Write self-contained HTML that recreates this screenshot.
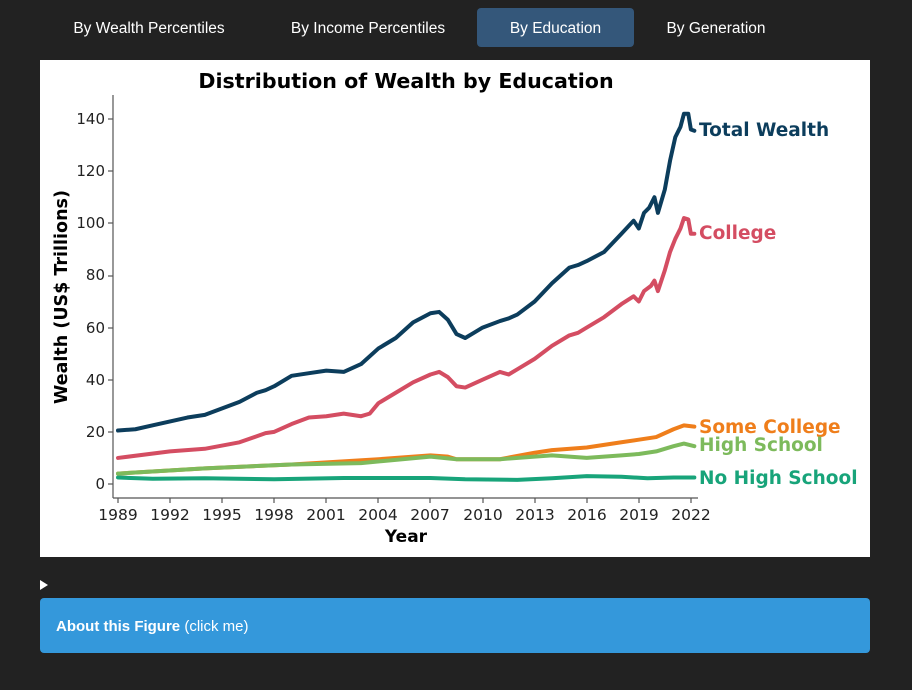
<!DOCTYPE html>
<html><head><meta charset="utf-8"><style>
body{margin:0;background:#222222;width:912px;height:690px;position:relative;overflow:hidden;font-family:"Liberation Sans",sans-serif}
.tab{position:absolute;top:9px;height:39px;line-height:39px;color:#fff;font-size:15.5px;text-align:center}
.chart{position:absolute;left:40px;top:60px;width:830px;height:497px;background:#fff}
.about{position:absolute;left:40px;top:598px;width:830px;height:55px;background:#3498db;border-radius:4px;color:#fff;font-size:15px;line-height:57px;box-sizing:border-box;padding-left:16px}
</style></head><body>
<div class="tab" style="left:56px;width:186px">By Wealth Percentiles</div>
<div class="tab" style="left:276px;width:184px">By Income Percentiles</div>
<div class="tab" style="left:477px;width:157px;top:8px;background:#34577a;border-radius:4px;line-height:41px">By Education</div>
<div class="tab" style="left:650px;width:132px">By Generation</div>
<div class="chart">
<svg width="830" height="497" viewBox="40 60 830 497" xmlns="http://www.w3.org/2000/svg" font-family="DejaVu Sans, sans-serif">
<text x="406" y="88" text-anchor="middle" font-size="20.6" font-weight="bold" fill="#000">Distribution of Wealth by Education</text>
<line x1="113" y1="95" x2="113" y2="498" stroke="#555" stroke-width="1.2"/>
<line x1="113" y1="498" x2="698" y2="498" stroke="#555" stroke-width="1.2"/>
<g font-size="15" fill="#222" text-anchor="end">
<text x="105" y="489">0</text><text x="105" y="437">20</text><text x="105" y="385">40</text><text x="105" y="333">60</text><text x="105" y="280">80</text><text x="105" y="228">100</text><text x="105" y="176">120</text><text x="105" y="124">140</text>
</g>
<g stroke="#555" stroke-width="1.2">
<line x1="108" y1="484" x2="113" y2="484"/><line x1="108" y1="432" x2="113" y2="432"/><line x1="108" y1="380" x2="113" y2="380"/><line x1="108" y1="328" x2="113" y2="328"/><line x1="108" y1="276" x2="113" y2="276"/><line x1="108" y1="223" x2="113" y2="223"/><line x1="108" y1="171" x2="113" y2="171"/><line x1="108" y1="119" x2="113" y2="119"/>
<line x1="118" y1="498" x2="118" y2="503"/><line x1="170" y1="498" x2="170" y2="503"/><line x1="222" y1="498" x2="222" y2="503"/><line x1="274" y1="498" x2="274" y2="503"/><line x1="326" y1="498" x2="326" y2="503"/><line x1="378" y1="498" x2="378" y2="503"/><line x1="430" y1="498" x2="430" y2="503"/><line x1="483" y1="498" x2="483" y2="503"/><line x1="535" y1="498" x2="535" y2="503"/><line x1="587" y1="498" x2="587" y2="503"/><line x1="639" y1="498" x2="639" y2="503"/><line x1="691" y1="498" x2="691" y2="503"/>
</g>
<g font-size="15.5" fill="#222" text-anchor="middle">
<text x="118" y="520">1989</text><text x="170" y="520">1992</text><text x="222" y="520">1995</text><text x="274" y="520">1998</text><text x="326" y="520">2001</text><text x="378" y="520">2004</text><text x="430" y="520">2007</text><text x="483" y="520">2010</text><text x="535" y="520">2013</text><text x="587" y="520">2016</text><text x="639" y="520">2019</text><text x="691" y="520">2022</text>
</g>
<text x="406" y="542" text-anchor="middle" font-size="17" font-weight="bold">Year</text>
<text transform="translate(67,297) rotate(-90)" text-anchor="middle" font-size="17.5" font-weight="bold">Wealth (US$ Trillions)</text>
<g transform="translate(118,484) scale(17.36,-2.607)" fill="none" stroke-width="4" stroke-linejoin="round" stroke-linecap="round">
<polyline vector-effect="non-scaling-stroke" stroke="#18a47a" points="0,2.5 2,2 5,2.2 9,1.8 13,2.3 18,2.3 20,1.8 23,1.6 25,2.2 27,3 29,2.8 30.5,2.2 32,2.5 33.2,2.5"/>
<polyline vector-effect="non-scaling-stroke" stroke="#ef7e1b" points="0,4 5,6 10,7.5 15,9.5 18,11 19,10.5 19.5,9.5 22,9.5 24,12 25,13 27,14 29,16 30,17 31,18 32,21 32.6,22.5 33.2,22"/>
<polyline vector-effect="non-scaling-stroke" stroke="#7dba5c" points="0,4 5,6 10,7.5 14,8 18,10.5 19.5,9.5 22,9.5 24,10.5 25,11 27,10 29,11 30,11.5 31,12.5 32,14.5 32.6,15.5 33.2,14.5"/>
<polyline vector-effect="non-scaling-stroke" stroke="#d44d62" points="0,10 3,12.5 5,13.5 7,16 8.5,19.5 9,20 10,23 11,25.5 12,26 13,27 14,26 14.5,27 15,31 16,35 17,39 18,42 18.5,43 19,41 19.5,37.5 20,37 21,40 22,43 22.5,42 23,44 24,48 25,53 26,57 26.5,58 27,60 28,64 29,69 29.7,72 30,70 30.3,74 30.7,76 30.9,78 31.1,74 31.5,82 31.8,89 32.1,94 32.4,98 32.6,102 32.85,101.5 33.0,96 33.2,96"/>
<polyline vector-effect="non-scaling-stroke" stroke="#0c3d5c" points="0,20.5 1,21 2,22.5 3,24 4,25.5 5,26.5 6,29 7,31.5 8,35 8.5,36 9,37.5 10,41.5 11,42.5 12,43.5 13,43 14,46 15,52 16,56 17,62 18,65.5 18.5,66 19,63 19.5,57.5 20,56 20.5,58 21,60 22,62.5 22.5,63.5 23,65 24,70 25,77 26,83 26.5,84 27,85.5 28,89 29,96 29.7,101 30,98 30.3,104 30.6,106 30.9,110 31.1,104 31.5,113 31.8,124 32.1,133 32.4,137 32.6,142 32.85,142 33.0,136 33.2,135.5"/>
</g>
<g font-size="18.5" font-weight="bold">
<text x="699" y="136" fill="#0c3d5c">Total Wealth</text>
<text x="699" y="239" fill="#d44d62">College</text>
<text x="699" y="433" fill="#ef7e1b">Some College</text>
<text x="699" y="451" fill="#7dba5c">High School</text>
<text x="699" y="484" fill="#18a47a">No High School</text>
</g>
</svg>
</div>
<div style="position:absolute;left:40px;top:580px;width:0;height:0;border-left:8px solid #fff;border-top:5px solid transparent;border-bottom:5px solid transparent"></div>
<div class="about"><b>About this Figure</b> (click me)</div>
</body></html>
